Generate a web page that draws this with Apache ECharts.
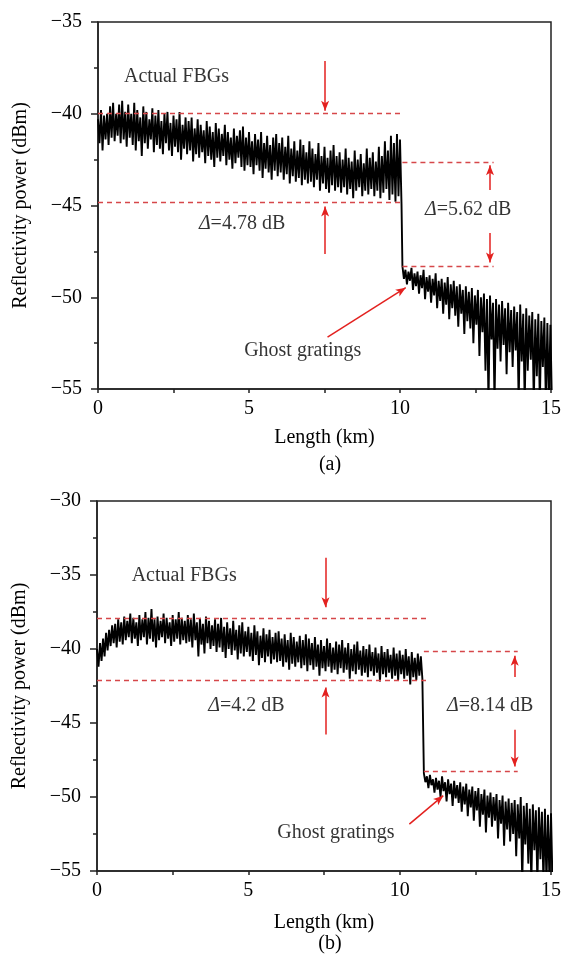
<!DOCTYPE html>
<html>
<head>
<meta charset="utf-8">
<script src="https://cdn.jsdelivr.net/npm/echarts@6/dist/echarts.min.js"></script>
<style>
html, body { margin: 0; padding: 0; background: #fff; }
#chart { width: 564px; height: 958px; }
</style>
</head>
<body>
<div id="chart"></div>
<script>
'use strict';

// sample step along the fibre (km); each sample has a peak (hi) and a trough (lo)
var STEP = 0.1;

// ---- panel (a) ----
var dropA = 10.08;
var hiA1 = [
    -40.3, -39.8, -40.1, -40.0, -39.6, -39.4, -40.0, -39.5, -39.3, -39.9,
    -39.5, -40.0, -39.4, -39.8, -40.2, -39.6, -39.9, -40.3, -39.7, -40.1,
    -39.8, -40.4, -40.0, -39.9, -40.5, -40.1, -40.3, -39.9, -40.6, -40.2,
    -40.4, -40.2, -40.8, -40.3, -40.6, -40.9, -40.4, -40.7, -41.0, -40.5,
    -40.8, -41.1, -40.6, -41.0, -41.3, -40.8, -41.2, -40.9, -40.7, -41.3,
    -41.0, -41.5, -41.1, -41.4, -41.0, -41.6, -41.2, -41.7, -41.3, -41.1,
    -41.6, -41.3, -41.8, -41.2, -41.9, -41.5, -42.0, -41.4, -41.7, -42.1,
    -41.5, -41.9, -42.2, -41.6, -42.3, -41.8, -42.4, -42.0, -41.7, -42.3,
    -42.1, -42.5, -41.9, -42.4, -42.6, -42.0, -42.5, -42.2, -42.7, -41.9,
    -42.4, -42.1, -42.6, -41.8, -42.3, -41.5, -42.0, -41.2, -41.6, -41.1,
    -41.4
];
var loA1 = [
    -41.6, -42.0, -41.4, -41.7, -41.3, -41.5, -41.2, -41.6, -41.4, -41.8,
    -41.3, -41.7, -42.0, -41.5, -42.3, -41.6, -41.9, -41.4, -42.1, -41.7,
    -41.9, -42.2, -41.6, -42.0, -42.3, -41.8, -42.1, -42.5, -41.9, -42.2,
    -42.0, -42.6, -42.2, -42.4, -42.1, -42.7, -42.3, -42.5, -42.9, -42.4,
    -42.6, -42.3, -42.8, -42.5, -43.0, -42.7, -42.4, -42.9, -43.1, -42.8,
    -42.9, -43.3, -42.8, -43.1, -43.5, -43.0, -43.2, -43.6, -43.1, -43.4,
    -43.2, -43.6, -43.3, -43.8, -43.4, -43.7, -43.5, -43.9, -43.6, -43.8,
    -43.7, -44.0, -43.6, -44.2, -43.8, -44.1, -44.3, -43.9, -44.2, -44.0,
    -44.3, -44.0, -44.4, -44.1, -44.6, -44.2, -44.0, -44.5, -44.2, -44.4,
    -44.1, -44.5, -44.2, -44.6, -44.3, -44.1, -44.7, -44.4, -44.8, -44.5,
    -44.9
];
var hiA2 = [
    -48.3, -48.5, -48.6, -48.4, -48.7, -48.6, -48.8, -48.5, -48.9,
    -48.8, -49.0, -48.7, -49.1, -49.0, -49.2, -48.9, -49.3, -49.1, -49.4,
    -49.3, -49.6, -49.4, -49.7, -49.5, -49.9, -49.6, -50.0, -49.8, -50.1,
    -49.9, -50.3, -50.1, -50.4, -50.2, -50.6, -50.3, -50.7, -50.5, -50.8,
    -50.4, -50.9, -50.6, -51.0, -50.8, -51.2, -50.9, -51.3, -51.1, -51.4,
    -51.5
];
var loA2 = [
    -49.0, -49.3, -49.1, -49.6, -49.4, -49.8, -49.5, -50.1, -49.7,
    -50.3, -49.9, -50.6, -50.2, -50.9, -50.4, -51.2, -50.6, -51.0, -51.6,
    -50.9, -52.0, -51.3, -51.7, -52.5, -51.5, -53.2, -51.9, -54.0, -55.8,
    -52.3, -55.8, -52.8, -53.5, -52.6, -54.2, -53.0, -53.8, -52.9, -55.8,
    -53.5, -55.8, -54.0, -53.4, -55.8, -54.3, -55.8, -53.8, -55.8, -55.8,
    -55.8
];
// dashed reference levels: [from km, to km, dBm]
var levelsA = [[0, 10.08, -40.0], [0, 10.08, -44.84], [10.08, 13.1, -42.64], [10.08, 13.1, -48.29]];
// arrows: [x0, y0, x1, y1], head at the second point
var arrowsA = [
    [7.52, -37.13, 7.52, -39.84],
    [7.52, -47.64, 7.52, -45.05],
    [12.98, -44.15, 12.98, -42.8],
    [12.98, -46.5, 12.98, -48.1],
    [7.6, -52.17, 10.19, -49.48]
];
var notesA = [
    [2.6, -37.97, 'Actual FBGs'],
    [4.77, -46.0, '{d|Δ}=4.78 dB'],
    [12.26, -45.24, '{d|Δ}=5.62 dB'],
    [6.78, -52.94, 'Ghost gratings']
];

// ---- panel (b) ----
var dropB = 10.8;
var hiB1 = [
    -40.0, -39.6, -39.3, -38.9, -38.7, -38.4, -38.3, -38.0, -38.2, -37.8,
    -38.1, -37.6, -37.9, -38.2, -37.7, -38.0, -37.5, -37.9, -37.3, -38.0,
    -37.8, -38.1, -37.6, -37.9, -38.2, -37.7, -38.0, -37.5, -37.9, -38.1,
    -37.7, -38.0, -37.6, -38.2, -37.9, -38.3, -37.8, -38.1, -38.4, -38.0,
    -38.3, -37.9, -38.5, -38.2, -38.6, -38.1, -38.7, -38.4, -38.2, -38.8,
    -38.5, -38.9, -38.4, -38.8, -39.1, -38.6, -39.0, -38.7, -39.2, -38.9,
    -38.8, -39.3, -39.0, -39.4, -38.9, -39.2, -39.5, -39.1, -39.4, -39.0,
    -39.3, -39.6, -39.2, -39.7, -39.4, -39.8, -39.3, -39.6, -39.9, -39.5,
    -39.7, -39.4, -39.9, -39.6, -40.0, -39.7, -39.5, -40.1, -39.8, -40.0,
    -39.7, -40.2, -39.9, -40.3, -39.8, -40.2, -40.0, -40.4, -39.9, -40.3,
    -40.1, -40.4, -40.0, -40.5, -40.2, -40.6, -40.3, -40.5
];
var loB1 = [
    -41.2, -40.8, -40.5, -40.1, -39.8, -39.6, -39.9, -39.5, -39.7, -39.4,
    -39.2, -39.6, -39.3, -39.8, -39.4, -39.2, -39.7, -39.3, -39.5, -39.9,
    -39.4, -39.2, -39.6, -39.3, -39.8, -39.5, -39.3, -39.7, -39.4, -39.6,
    -39.5, -39.9, -39.4, -40.5, -39.7, -40.3, -39.6, -40.0, -39.8, -40.2,
    -39.9, -40.2, -40.6, -40.0, -40.4, -40.1, -40.7, -40.3, -40.5, -40.2,
    -40.5, -40.8, -40.4, -41.1, -40.6, -40.9, -40.5, -41.0, -40.7, -40.9,
    -40.8, -41.2, -40.9, -41.4, -41.0, -41.2, -40.9, -41.3, -41.1, -41.5,
    -41.1, -41.4, -41.2, -41.8, -41.3, -41.5, -41.2, -41.6, -41.4, -41.7,
    -41.3, -41.6, -41.4, -42.0, -41.5, -41.7, -41.4, -41.8, -41.6, -41.9,
    -41.5, -41.8, -41.6, -42.2, -41.7, -41.9, -41.6, -42.0, -41.8, -42.1,
    -41.7, -42.0, -41.8, -42.4, -41.9, -42.1, -41.8, -42.0
];
var hiB2 = [
    -48.4,
    -48.6, -48.5, -48.8, -48.7, -48.9, -48.6, -49.0, -48.8, -49.1, -48.9,
    -49.2, -49.0, -49.3, -49.1, -49.5, -49.3, -49.6, -49.4, -49.8, -49.5,
    -49.9, -49.7, -50.0, -49.8, -50.2, -49.9, -50.3, -50.1, -50.4, -50.2,
    -50.5, -50.0, -50.6, -50.4, -50.8, -50.5, -50.9, -50.7, -51.0, -50.8,
    -51.2, -51.1
];
var loB2 = [
    -49.0,
    -49.4, -49.2, -49.7, -49.5, -50.0, -49.6, -50.3, -49.8, -50.6, -50.1,
    -50.4, -51.0, -50.5, -51.3, -50.7, -51.6, -50.9, -52.0, -51.2, -52.4,
    -51.4, -52.0, -51.6, -52.8, -51.8, -53.3, -52.2, -53.0, -52.5, -54.0,
    -52.8, -55.8, -53.2, -54.5, -55.8, -53.6, -55.8, -54.2, -55.8, -55.8,
    -55.8, -55.8
];
var levelsB = [[0, 10.95, -37.9], [0, 10.95, -42.1], [10.8, 13.9, -40.13], [10.8, 13.9, -48.26]];
var arrowsB = [
    [7.55, -33.84, 7.55, -37.18],
    [7.55, -45.77, 7.55, -42.6],
    [13.8, -41.9, 13.8, -40.45],
    [13.8, -45.45, 13.8, -47.94],
    [10.32, -51.83, 11.44, -49.91]
];
var notesB = [
    [2.88, -35.06, 'Actual FBGs'],
    [4.94, -43.84, '{d|Δ}=4.2 dB'],
    [12.99, -43.84, '{d|Δ}=8.14 dB'],
    [7.89, -52.44, 'Ghost gratings']
];

var FONT = 'Liberation Serif';
var FS = 20;
var TXT = '#000';
var RED = '#e3211f';
var DASH = '#d6474a';

// zigzag the peak/trough samples into one trace, with the vertical drop at the fibre end
var buildTrace = function(hi1, lo1, drop, hi2, lo2) {
    var pts = [], i;
    for (i = 0; i < hi1.length; i++) {
        pts.push([i * STEP, hi1[i]]);
        pts.push([i * STEP + STEP / 2, lo1[i]]);
    }
    pts.push([drop, lo1[lo1.length - 1]]);
    for (i = 0; i < hi2.length; i++) {
        pts.push([drop + i * STEP, hi2[i]]);
        pts.push([drop + i * STEP + STEP / 2, lo2[i]]);
    }
    return pts;
};

var makeX = function(idx, gap) {
    return {
        type: 'value', gridIndex: idx, min: 0, max: 15, interval: 5,
        name: 'Length (km)', nameLocation: 'middle', nameGap: gap,
        nameTextStyle: { fontFamily: FONT, fontSize: FS, color: TXT },
        axisLine: { lineStyle: { color: '#222', width: 1.5 } },
        axisTick: { inside: false, length: 4, lineStyle: { color: '#222', width: 1.5 } },
        minorTick: { show: true, splitNumber: 2, length: 4, lineStyle: { color: '#222', width: 1.5 } },
        splitLine: { show: false },
        axisLabel: { fontFamily: FONT, fontSize: FS, color: TXT, margin: 10 }
    };
};
var makeY = function(idx, min, max) {
    return {
        type: 'value', gridIndex: idx, min: min, max: max, interval: 5,
        name: 'Reflectivity power (dBm)', nameLocation: 'middle', nameGap: 67,
        nameTextStyle: { fontFamily: FONT, fontSize: FS, color: TXT },
        axisLine: { lineStyle: { color: '#222', width: 1.5 } },
        axisTick: { inside: false, length: 7, lineStyle: { color: '#222', width: 1.5 } },
        minorTick: { show: true, splitNumber: 2, length: 4, lineStyle: { color: '#222', width: 1.5 } },
        splitLine: { show: false },
        axisLabel: {
            fontFamily: FONT, fontSize: FS, color: TXT, margin: 16,
            formatter: function(v) { return String(v).replace('-', '\u2212'); }
        }
    };
};

var makeTrace = function(idx, data) {
    return {
        type: 'line', xAxisIndex: idx, yAxisIndex: idx, data: data,
        symbol: 'none', silent: true, clip: true,
        lineStyle: { color: '#000', width: 1.9 }
    };
};
var makeLevels = function(idx, levels) {
    return {
        type: 'line', xAxisIndex: idx, yAxisIndex: idx, data: [], silent: true,
        markLine: {
            silent: true, symbol: 'none', label: { show: false },
            lineStyle: { color: DASH, type: [5, 4], width: 1.3 },
            data: levels.map(function(l) {
                return [{ coord: [l[0], l[2]] }, { coord: [l[1], l[2]] }];
            })
        }
    };
};
var makeArrows = function(idx, arrows) {
    return {
        type: 'line', xAxisIndex: idx, yAxisIndex: idx, data: [], silent: true,
        markLine: {
            silent: true, symbol: ['none', 'arrow'], symbolSize: [6, 10],
            label: { show: false },
            lineStyle: { color: RED, type: 'solid', width: 1.5 },
            data: arrows.map(function(a) {
                return [{ coord: [a[0], a[1]] }, { coord: [a[2], a[3]] }];
            })
        }
    };
};
var makeNotes = function(idx, notes) {
    return {
        type: 'scatter', xAxisIndex: idx, yAxisIndex: idx, symbolSize: 0, silent: true,
        data: notes.map(function(n) {
            return {
                value: [n[0], n[1]],
                label: {
                    show: true, position: 'inside', formatter: n[2],
                    fontFamily: FONT, fontSize: FS, color: TXT,
                    rich: { d: { fontFamily: FONT, fontSize: FS, fontStyle: 'italic', color: TXT } }
                }
            };
        })
    };
};

var chart = echarts.init(document.getElementById('chart'), null, { renderer: 'canvas' });
var option = {
    backgroundColor: '#fff',
    animation: false,
    title: [
        { text: '(a)', left: 325, top: 450, textAlign: 'center', textStyle: { fontFamily: FONT, fontSize: FS, fontWeight: 'normal', color: TXT } },
        { text: '(b)', left: 325, top: 929, textAlign: 'center', textStyle: { fontFamily: FONT, fontSize: FS, fontWeight: 'normal', color: TXT } }
    ],
    grid: [
        { left: 98, top: 22, width: 454, height: 367, show: true, borderColor: '#222', borderWidth: 1.5, backgroundColor: 'transparent' },
        { left: 97, top: 501, width: 456, height: 370, show: true, borderColor: '#222', borderWidth: 1.5, backgroundColor: 'transparent' }
    ],
    xAxis: [makeX(0, 39), makeX(1, 42)],
    yAxis: [makeY(0, -55, -35), makeY(1, -55, -30)],
    series: [
        makeTrace(0, buildTrace(hiA1, loA1, dropA, hiA2, loA2)),
        makeLevels(0, levelsA),
        makeArrows(0, arrowsA),
        makeNotes(0, notesA),
        makeTrace(1, buildTrace(hiB1, loB1, dropB, hiB2, loB2)),
        makeLevels(1, levelsB),
        makeArrows(1, arrowsB),
        makeNotes(1, notesB)
    ]
};
chart.setOption(option);
</script>
</body>
</html>
